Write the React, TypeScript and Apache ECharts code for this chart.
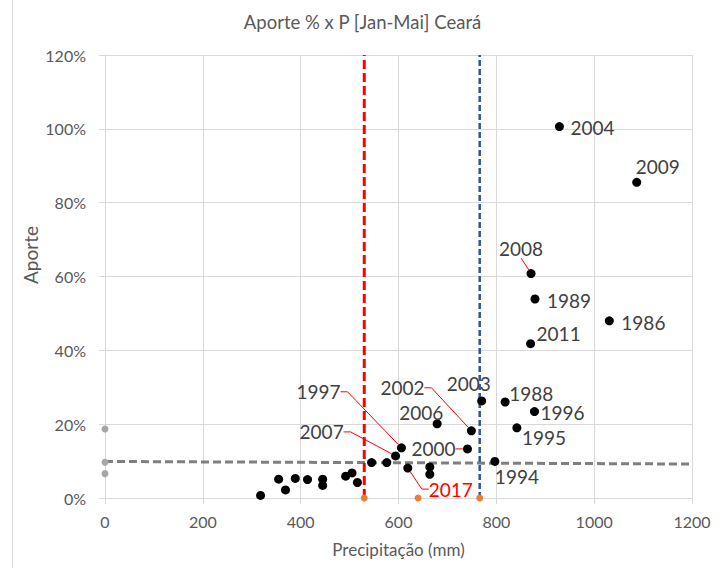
import React, { useEffect, useRef } from "react";
import * as echarts from "echarts";

// ---- data ----
const PRECIP = [318, 355, 369, 389, 414, 445, 445, 492, 505, 516, 545, 576, 594, 606, 619, 664, 664, 679, 741, 749, 770, 797, 818, 842, 878, 870, 879, 871, 929, 1031, 1087];
const APORTE = [0.7, 5.1, 2.2, 5.3, 5.0, 5.1, 3.4, 5.9, 6.8, 4.2, 9.6, 9.6, 11.4, 13.6, 8.1, 8.4, 6.4, 20.1, 13.3, 18.2, 26.3, 9.9, 26.0, 19.0, 23.4, 41.8, 53.9, 60.8, 100.6, 48.0, 85.5];
const YEARS = ["", "", "", "", "", "", "", "", "", "", "", "", "2007", "1997", "2017", "", "", "2006", "2000", "2002", "2003", "1994", "1988", "1995", "1996", "2011", "1989", "2008", "2004", "1986", "2009"];
const LEADER_YEARS = ["2007", "1997", "2017", "2000", "2002", "2008"];
const HIGHLIGHT_YEAR = "2017";

const GRAY_AXIS_X = [0, 0, 0];
const GRAY_AXIS_Y = [18.7, 9.7, 6.6];
const ORANGE_X = [530, 640, 766];
const ORANGE_Y = [0, 0, 0];
const RED_LINE_X = 530;
const BLUE_LINE_X = 766;
const TREND_X = [0, 1200];
const TREND_Y = [9.9, 9.2];

const X_TICKS = [0, 200, 400, 600, 800, 1000, 1200];
const Y_TICKS = [0, 20, 40, 60, 80, 100, 120];

// ---- label styling offsets (pixels from dot centre to text left / middle) ----
const LABEL_OFFSETS: Record<string, [number, number]> = {
  "2007": [-96, -24],
  "1997": [-105, -56],
  "2017": [21, 21],
  "2006": [-38, -11],
  "2000": [-56, 0],
  "2002": [-91, -43],
  "2003": [-35, -17],
  "1994": [0, 15],
  "1988": [4, -9],
  "1995": [5, 10],
  "1996": [6, 1],
  "2011": [6, -10],
  "1989": [12, 1],
  "2008": [-32, -25],
  "2004": [11, 1],
  "1986": [12, 2],
  "2009": [-1, -16],
};

const FONT = "Lato";

export default function App() {
  const ref = useRef<HTMLDivElement>(null);
  useEffect(() => {
    if (!ref.current) return;
    const chart = echarts.init(ref.current, null, { renderer: "svg" });

    const mainData = PRECIP.map((x, i) => {
      const yr = YEARS[i];
      const leader = LEADER_YEARS.includes(yr);
      return {
        value: [x, APORTE[i]],
        name: yr,
        label: {
          show: yr !== "",
          color: yr === HIGHLIGHT_YEAR ? "#ff0000" : "#404040",
        },
        labelLine: {
          show: leader,
          length2: yr === "2008" ? 0 : 7,
          lineStyle: { color: "#ff0000", width: 1 },
        },
      };
    });

    const option: any = {
      animation: false,
      backgroundColor: "#ffffff",
      title: {
        text: "Aporte % x P [Jan-Mai] Ceará",
        left: "center",
        top: 7,
        textStyle: { fontFamily: FONT, fontSize: 18.5, fontWeight: "normal", color: "#595959" },
      },
      grid: { left: 105, top: 55, right: 33, bottom: 70, containLabel: false },
      xAxis: {
        type: "value",
        min: X_TICKS[0],
        max: X_TICKS[X_TICKS.length - 1],
        interval: X_TICKS[1] - X_TICKS[0],
        name: "Precipitação (mm)",
        nameLocation: "middle",
        nameGap: 43,
        nameTextStyle: { fontFamily: FONT, fontSize: 17, color: "#595959" },
        axisLine: { show: true, lineStyle: { color: "#d9d9d9", width: 1 } },
        axisTick: { show: true, length: 6, lineStyle: { color: "#d9d9d9" } },
        axisLabel: {
          fontFamily: FONT,
          fontSize: 16,
          color: "#595959",
          margin: 15,
          formatter: (v: number) => String(v),
        },
        splitLine: { show: true, lineStyle: { color: "#d9d9d9", width: 1 } },
      },
      yAxis: {
        type: "value",
        min: Y_TICKS[0],
        max: Y_TICKS[Y_TICKS.length - 1],
        interval: Y_TICKS[1] - Y_TICKS[0],
        axisLine: { show: true, lineStyle: { color: "#d9d9d9", width: 1 } },
        axisTick: { show: true, length: 6, lineStyle: { color: "#d9d9d9" } },
        axisLabel: { fontFamily: FONT, fontSize: 16, color: "#595959", margin: 19, formatter: "{value}%" },
        splitLine: { show: true, lineStyle: { color: "#d9d9d9", width: 1 } },
      },
      graphic: [
        { type: "line", shape: { x1: 12.5, y1: 0, x2: 12.5, y2: 568 }, style: { stroke: "#d9d9d9", lineWidth: 1 }, silent: true },
        {
          type: "text",
          x: 30,
          y: 255,
          rotation: Math.PI / 2,
          style: { text: "Aporte", fontFamily: FONT, fontSize: 19, fill: "#595959", align: "center", verticalAlign: "middle" },
          silent: true,
        },
      ],
      series: [
        {
          type: "line",
          data: TREND_X.map((x, i) => [x, TREND_Y[i]]),
          symbol: "none",
          lineStyle: { color: "#7f7f7f", width: 3, type: [8, 4] },
          silent: true,
          z: 2,
        },
        {
          type: "line",
          data: [[RED_LINE_X, Y_TICKS[0]], [RED_LINE_X, Y_TICKS[Y_TICKS.length - 1]]],
          symbol: "none",
          lineStyle: { color: "#ff0000", width: 3, type: [9, 4] },
          silent: true,
          z: 2,
        },
        {
          type: "line",
          data: [[BLUE_LINE_X, Y_TICKS[0]], [BLUE_LINE_X, Y_TICKS[Y_TICKS.length - 1]]],
          symbol: "none",
          lineStyle: { color: "#2f5597", width: 2.5, type: [6, 3] },
          silent: true,
          z: 2,
        },
        {
          type: "scatter",
          data: GRAY_AXIS_X.map((x, i) => [x, GRAY_AXIS_Y[i]]),
          symbolSize: 7,
          itemStyle: { color: "#a6a6a6", opacity: 1 },
          silent: true,
          z: 3,
        },
        {
          type: "scatter",
          data: ORANGE_X.map((x, i) => [x, ORANGE_Y[i]]),
          symbolSize: 7,
          itemStyle: { color: "#ed7d31", opacity: 1 },
          silent: true,
          z: 4,
        },
        {
          type: "scatter",
          data: mainData,
          symbolSize: 9,
          itemStyle: { color: "#000000", opacity: 1 },
          silent: true,
          z: 5,
          label: {
            show: true,
            formatter: "{b}",
            fontFamily: FONT,
            fontSize: 19,
            color: "#404040",
          },
          labelLine: { show: false },
          labelLayout: (p: any) => {
            const yr = YEARS[p.dataIndex];
            const o = LABEL_OFFSETS[yr];
            if (!o) return {};
            return {
              x: p.rect.x + p.rect.width / 2 + o[0],
              y: p.rect.y + p.rect.height / 2 + o[1],
              align: "left",
              verticalAlign: "middle",
            };
          },
        },
      ],
    };

    chart.setOption(option);
    return () => chart.dispose();
  }, []);

  return (
    <div
      ref={ref}
      style={{ position: "absolute", left: 0, top: 0, width: 725, height: 568, background: "#fff" }}
    />
  );
}
